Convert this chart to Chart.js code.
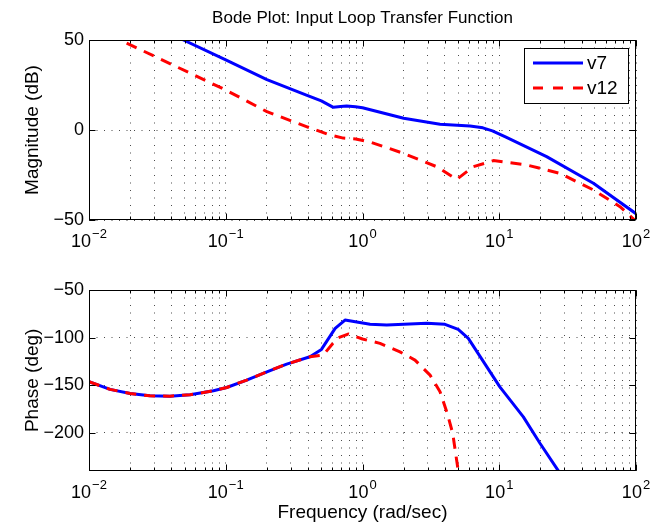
<!DOCTYPE html>
<html>
<head>
<meta charset="utf-8">
<script src="https://cdn.jsdelivr.net/npm/chart.js@4.4.1/dist/chart.umd.min.js"></script>
<style>
html,body{margin:0;padding:0;background:#fff;}
#wrap{position:relative;width:651px;height:524px;overflow:hidden;background:#fff;}
canvas{position:absolute;left:0;display:block;}
</style>
</head>
<body>
<div id="wrap">
<canvas id="mag" width="651" height="262" style="top:0"></canvas>
<canvas id="phase" width="651" height="262" style="top:262px"></canvas>
</div>
<script>
// ---------------- data ----------------
const titleText = 'Bode Plot: Input Loop Transfer Function';
const seriesNames = ['v7', 'v12'];
const freqTicks = [0.01, 0.1, 1, 10, 100];
const freqTickBase = ['10', '10', '10', '10', '10'];
const freqTickExp = ['\u22122', '\u22121', '0', '1', '2'];
const magTicks = [-50, 0, 50];
const phaseTicks = [-50, -100, -150, -200];

const magFreqV7 = [0.0447, 0.049, 0.1, 0.2, 0.389, 0.5, 0.612, 0.692, 0.766, 0.891, 1, 2, 3.69, 6.11, 7.59, 8.91, 11.2, 22.2, 48.8, 100];
const magV7     = [51.4,   50,    39,  28,  19.4,  16.2, 12.6, 13.0,  13.3,  12.9, 12.4, 6.5, 3.2, 2.2, 1.2, -0.5, -4, -14.8, -29.6, -46.5];

const magFreqV12 = [0.0141, 0.01687, 0.1, 0.2, 0.389, 0.562, 0.724, 0.891, 1.148, 2, 3.49, 4.89, 6.46, 9.06, 15.85, 27.8, 48.8, 76.4, 97.7, 100];
const magV12     = [52.7,   50,      22.2, 10.2, 1.9, -2.5,  -4.5,  -5.0,  -6.8, -13, -20.4, -27.4, -20.4, -17.0, -19.4, -24.1, -33.3, -42.6, -50, -51];

const phaseFreqV7 = [0.01, 0.01425, 0.02, 0.0279, 0.0391, 0.0548, 0.0813, 0.1016, 0.1422, 0.2, 0.279, 0.413, 0.501, 0.631, 0.745, 1.135, 1.503, 2.95, 4.01, 5.01, 5.94, 10.1, 15, 19.9, 27, 31.6];
const phaseV7     = [-146.5, -154.5, -158.8, -161.3, -161.6, -160.2, -156, -152.5, -144.7, -136, -127.9, -120.2, -112.5, -90.4, -81.6, -86.1, -86.8, -85, -86.1, -91.4, -100.9, -151.8, -183.4, -211.4, -240, -255];

const phaseFreqV12 = [0.01, 0.01425, 0.02, 0.0279, 0.0391, 0.0548, 0.0813, 0.1016, 0.1422, 0.2, 0.279, 0.413, 0.516, 0.6, 0.647, 0.785, 1, 1.343, 1.88, 2.42, 3.12, 3.69, 4.17, 4.57, 5.01, 5.25];
const phaseV12     = [-146.5, -154.5, -158.8, -161.3, -161.6, -160.2, -156, -152.5, -144.7, -136, -127.9, -120.2, -118.4, -107, -100.9, -96.3, -101.5, -106.1, -115, -123.7, -139.5, -157, -179.8, -200.9, -240, -260];

// ---------------- styling ----------------
const FONT = "'Liberation Sans', Arial, Helvetica, sans-serif";
Chart.defaults.font.family = FONT;
Chart.defaults.color = '#000';
const BLUE = '#0000ff', RED = '#ff0000';
const GRID = 'rgba(0,0,0,0.7)';
const DOT = [1, 6.5];

function pairs(xs, ys) { return xs.map((x, i) => ({x: x, y: ys[i]})); }
function isDecade(v) { const l = Math.log10(v); return Math.abs(l - Math.round(l)) < 1e-6; }
function logGridTicks() {
  const t = [];
  for (let e = -2; e < 2; e++) for (let m = 1; m < 10; m++) t.push({value: m * Math.pow(10, e)});
  t.push({value: 100});
  return t;
}

const framePlugin = {
  id: 'frame',
  afterDatasetsDraw(chart) {
    const {ctx, chartArea: a, scales} = chart;
    const L = Math.round(a.left) + 0.5, R = Math.round(a.right) - 0.5;
    const T = Math.round(a.top) + 0.5, B = Math.round(a.bottom) - 0.5;
    ctx.save();
    ctx.strokeStyle = '#000';
    ctx.lineWidth = 1;
    ctx.setLineDash([]);
    ctx.beginPath();
    scales.x.ticks.forEach(t => {
      const p = Math.round(scales.x.getPixelForValue(t.value)) + 0.5;
      const len = isDecade(t.value) ? 6 : 3;
      ctx.moveTo(p, B); ctx.lineTo(p, B - len);
      ctx.moveTo(p, T); ctx.lineTo(p, T + len);
    });
    scales.y.ticks.forEach(t => {
      const p = Math.round(scales.y.getPixelForValue(t.value)) + 0.5;
      ctx.moveTo(L, p); ctx.lineTo(L + 6, p);
      ctx.moveTo(R, p); ctx.lineTo(R - 6, p);
    });
    ctx.stroke();
    ctx.strokeRect(L, T, R - L, B - T);
    // frequency tick labels: base "10" with raised exponent
    ctx.fillStyle = '#000';
    ctx.textBaseline = 'alphabetic';
    ctx.textAlign = 'left';
    freqTicks.forEach((f, i) => {
      const p = scales.x.getPixelForValue(f);
      ctx.font = '18px ' + FONT;
      const wb = ctx.measureText(freqTickBase[i]).width;
      ctx.font = '13px ' + FONT;
      const we = ctx.measureText(freqTickExp[i]).width;
      const x0 = p - (wb + 1 + we) / 2;
      const yb = a.bottom + 27;
      ctx.font = '18px ' + FONT;
      ctx.fillText(freqTickBase[i], x0, yb);
      ctx.font = '13px ' + FONT;
      ctx.fillText(freqTickExp[i], x0 + wb + 1, yb - 9);
    });
    ctx.restore();
  }
};

const titlePlugin = {
  id: 'centerTitle',
  afterDraw(chart) {
    const {ctx, chartArea: a} = chart;
    ctx.save();
    ctx.fillStyle = '#000';
    ctx.font = '17px ' + FONT;
    ctx.textAlign = 'center';
    ctx.textBaseline = 'middle';
    ctx.fillText(titleText, (a.left + a.right) / 2, 18);
    ctx.restore();
  }
};

const legendPlugin = {
  id: 'boxLegend',
  afterDraw(chart) {
    const {ctx, chartArea: a} = chart;
    const w = 104, h = 55;
    const x0 = Math.round(a.right) - 8 - w, y0 = Math.round(a.top) + 8;
    ctx.save();
    ctx.fillStyle = '#fff';
    ctx.fillRect(x0, y0, w, h);
    ctx.strokeStyle = '#000';
    ctx.lineWidth = 1;
    ctx.strokeRect(x0 + 0.5, y0 + 0.5, w, h);
    const items = [
      {name: seriesNames[0], color: BLUE, dash: []},
      {name: seriesNames[1], color: RED, dash: [10, 10]}
    ];
    items.forEach((it, i) => {
      const y = y0 + 15 + i * 25;
      ctx.strokeStyle = it.color;
      ctx.lineWidth = 3;
      ctx.setLineDash(it.dash);
      ctx.beginPath();
      ctx.moveTo(x0 + 9, y); ctx.lineTo(x0 + 59, y);
      ctx.stroke();
      ctx.setLineDash([]);
      ctx.fillStyle = '#000';
      ctx.font = '19px ' + FONT;
      ctx.textBaseline = 'middle';
      ctx.textAlign = 'left';
      ctx.fillText(it.name, x0 + 63, y + 1);
    });
    ctx.restore();
  }
};

function xScale(height, showTitle) {
  return {
    type: 'logarithmic', min: 0.01, max: 100,
    afterBuildTicks: s => { s.ticks = logGridTicks(); },
    afterFit: s => { s.height = height; s.paddingLeft = 0; s.paddingRight = 0; },
    grid: {color: GRID, lineWidth: 1, drawTicks: false},
    border: {display: false, dash: DOT},
    ticks: {display: false},
    title: {display: showTitle, text: 'Frequency (rad/sec)', font: {size: 19}, color: '#000', padding: {top: 0, bottom: 0}}
  };
}
function yScale(min, max, ticks, label) {
  return {
    type: 'linear', min: min, max: max,
    afterBuildTicks: s => { s.ticks = ticks.map(v => ({value: v})); },
    afterFit: s => { s.width = 89; s.paddingTop = 0; s.paddingBottom = 0; },
    grid: {color: GRID, lineWidth: 1, drawTicks: false},
    border: {display: false, dash: DOT},
    ticks: {padding: 5, font: {size: 18}, color: '#000', callback: v => (v < 0 ? '\u2212' + Math.abs(v) : String(v))},
    title: {display: true, text: label, font: {size: 19}, color: '#000', padding: {top: 21, bottom: 0}}
  };
}
function ds(label, data, color, dash, order) {
  return {label: label, data: data, borderColor: color, backgroundColor: color, borderWidth: 3, order: order,
    borderDash: dash, pointRadius: 0, tension: 0, fill: false, clip: 0, borderCapStyle: 'butt', borderJoinStyle: 'round'};
}

new Chart(document.getElementById('mag'), {
  type: 'line',
  data: {datasets: [
    ds(seriesNames[0], pairs(magFreqV7, magV7), BLUE, [], 1),
    ds(seriesNames[1], pairs(magFreqV12, magV12), RED, [11, 8], 0)
  ]},
  options: {
    responsive: false, animation: false,
    layout: {padding: {left: 0, right: 15, top: 40, bottom: 0}},
    plugins: {legend: {display: false}, tooltip: {enabled: false}, title: {display: false}},
    scales: {x: xScale(42, false), y: yScale(-50, 50, magTicks, 'Magnitude (dB)')}
  },
  plugins: [framePlugin, titlePlugin, legendPlugin]
});

new Chart(document.getElementById('phase'), {
  type: 'line',
  data: {datasets: [
    ds(seriesNames[0], pairs(phaseFreqV7, phaseV7), BLUE, [], 1),
    ds(seriesNames[1], pairs(phaseFreqV12, phaseV12), RED, [11, 8], 0)
  ]},
  options: {
    responsive: false, animation: false,
    layout: {padding: {left: 0, right: 15, top: 28, bottom: 0}},
    plugins: {legend: {display: false}, tooltip: {enabled: false}, title: {display: false}},
    scales: {x: xScale(53.3, true), y: yScale(-240, -50, phaseTicks, 'Phase (deg)')}
  },
  plugins: [framePlugin]
});
</script>
</body>
</html>
